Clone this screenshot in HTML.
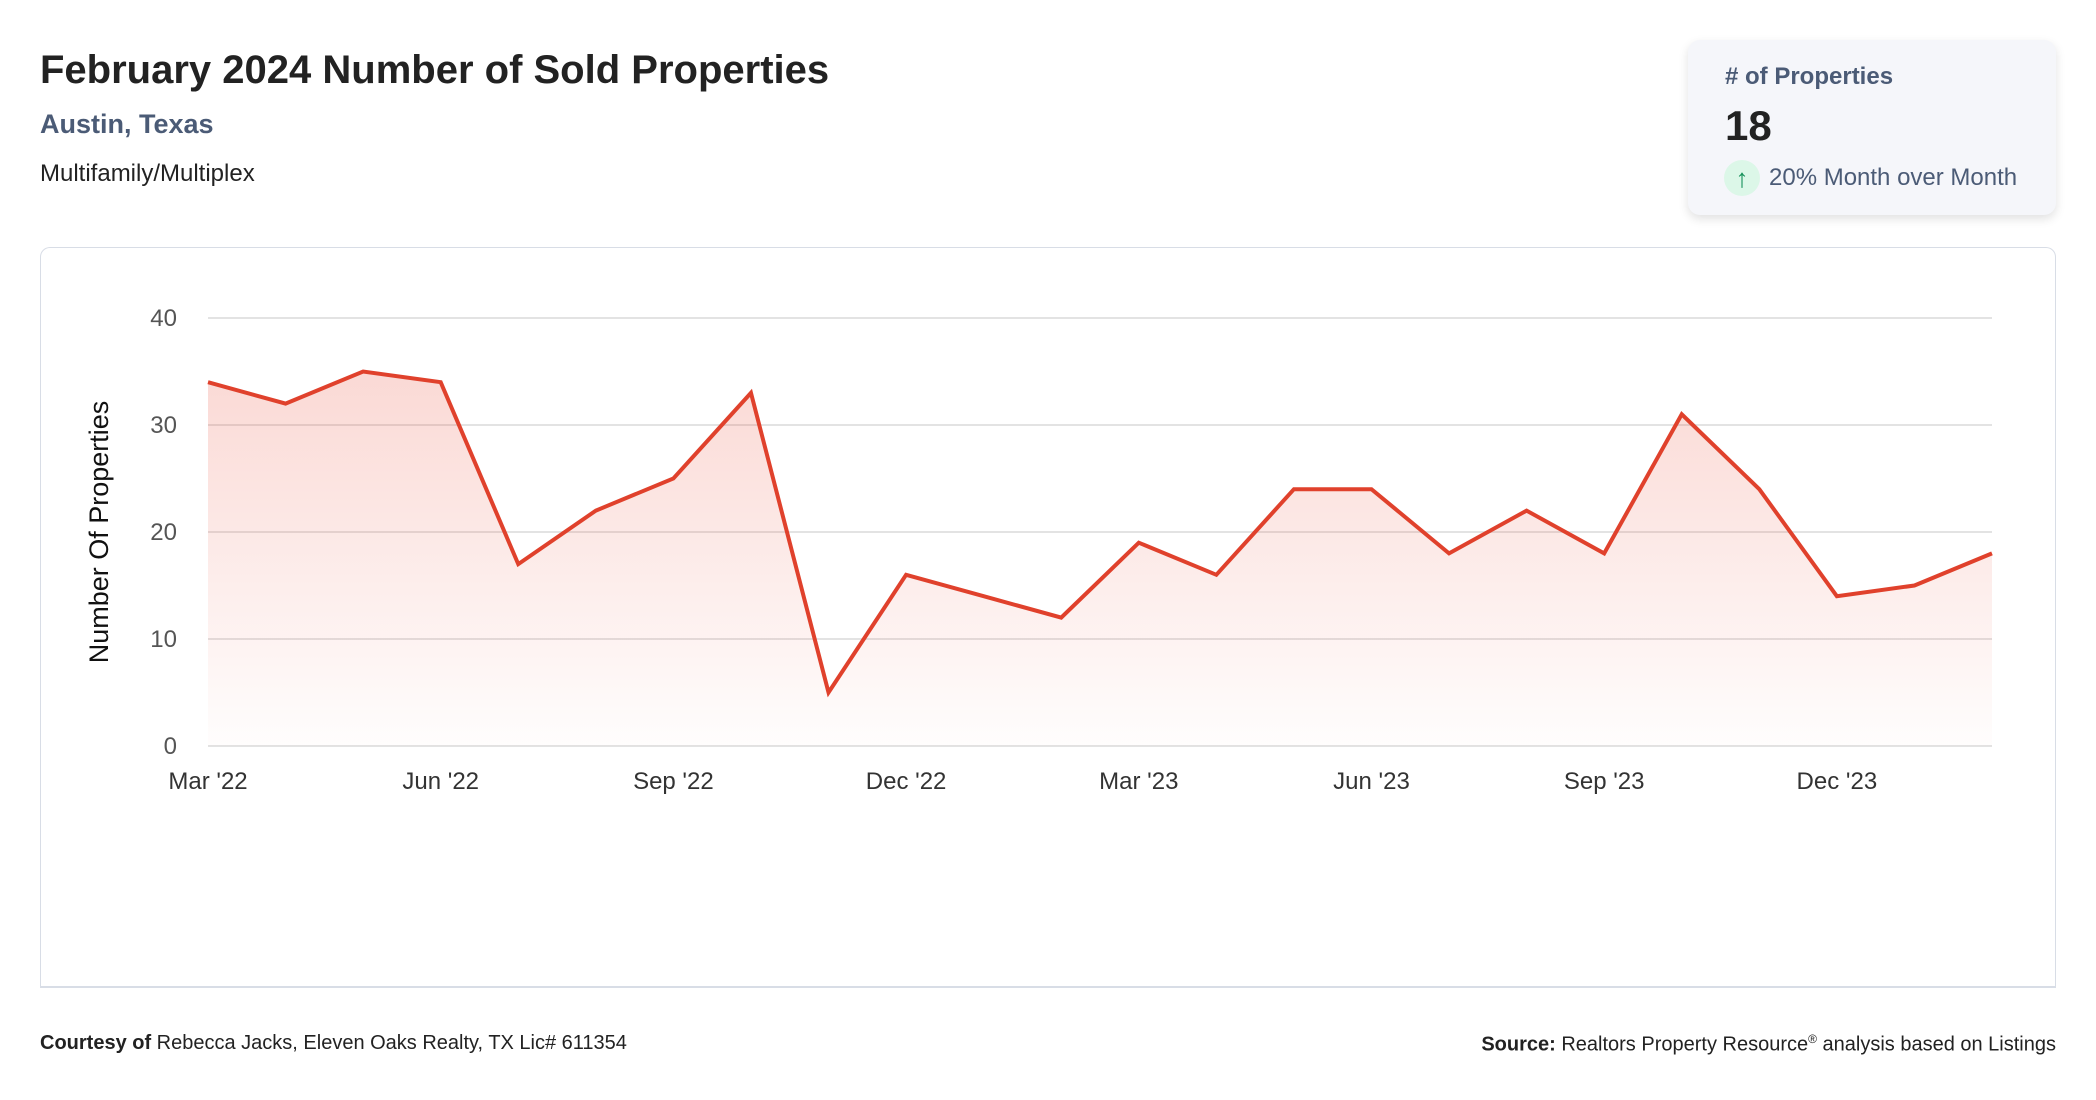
<!DOCTYPE html>
<html><head><meta charset="utf-8">
<style>
body{margin:0;width:2096px;height:1100px;background:#fff;font-family:"Liberation Sans",sans-serif;position:relative;overflow:hidden}
.abs{position:absolute;white-space:nowrap}
</style></head>
<body>
<div class="abs" style="left:40px;top:48px;font-size:40px;font-weight:bold;color:#222">February 2024 Number of Sold Properties</div>
<div class="abs" style="left:40px;top:109px;font-size:27px;font-weight:bold;color:#4b5b76">Austin, Texas</div>
<div class="abs" style="left:40px;top:160px;font-size:24px;color:#222">Multifamily/Multiplex</div>

<div class="abs" style="left:1688px;top:40px;width:368px;height:175px;background:#f5f6fa;border-radius:12px;box-shadow:0 4px 10px rgba(0,0,0,0.12)">
  <div class="abs" style="left:37px;top:23px;font-size:24px;font-weight:bold;color:#4b5b76"># of Properties</div>
  <div class="abs" style="left:37px;top:62px;font-size:42px;font-weight:bold;color:#222">18</div>
  <div class="abs" style="left:36px;top:120px;width:36px;height:36px;border-radius:50%;background:#dcf7e8;color:#16915a;font-size:26px;line-height:36px;text-align:center">↑</div>
  <div class="abs" style="left:81px;top:124px;font-size:24px;color:#4b5b76">20% Month over Month</div>
</div>

<div class="abs" style="left:40px;top:247px;width:2014px;height:738px;border:1px solid #d8dde6;border-radius:10px 10px 0 0;border-bottom:2px solid #d8dde6"></div>

<svg id="chart" class="abs" style="left:0;top:0" width="2096" height="1100"></svg>

<div class="abs" style="left:40px;top:1032px;font-size:20px;color:#222"><b>Courtesy of</b> Rebecca Jacks, Eleven Oaks Realty, TX Lic# 611354</div>
<div class="abs" style="right:40px;top:1032px;font-size:20px;color:#222"><b>Source:</b> Realtors Property Resource<sup style="font-size:12px">®</sup> analysis based on Listings</div>

<script>
const months = ["Mar '22","Apr '22","May '22","Jun '22","Jul '22","Aug '22","Sep '22","Oct '22","Nov '22","Dec '22","Jan '23","Feb '23","Mar '23","Apr '23","May '23","Jun '23","Jul '23","Aug '23","Sep '23","Oct '23","Nov '23","Dec '23","Jan '24","Feb '24"];
const soldCounts = [34,32,35,34,17,22,25,33,5,16,14,12,19,16,24,24,18,22,18,31,24,14,15,18];
const yTicks = [0,10,20,30,40];
const xTickLabels = ["Mar '22","Jun '22","Sep '22","Dec '22","Mar '23","Jun '23","Sep '23","Dec '23"];

const NS="http://www.w3.org/2000/svg";
const svg=document.getElementById('chart');
const X0=208,X1=1992,Y0=746,Y1=318;
const xs=i=>X0+(X1-X0)*i/(months.length-1);
const ys=v=>Y0-(Y0-Y1)*v/40;
function mk(t,a){const e=document.createElementNS(NS,t);for(const k in a)e.setAttribute(k,a[k]);svg.appendChild(e);return e;}

const defs=mk('defs',{});
defs.innerHTML='<linearGradient id="fillg" x1="0" y1="0" x2="0" y2="1"><stop offset="0" stop-color="#e8412c" stop-opacity="0.2"/><stop offset="1" stop-color="#e8412c" stop-opacity="0.01"/></linearGradient>';

yTicks.forEach(v=>{
  const l=mk('line',{x1:X0,x2:X1,y1:ys(v),y2:ys(v),stroke:'#e3e3e3','stroke-width':2});
  
  
  const t=mk('text',{x:177,y:ys(v)+8,'text-anchor':'end','font-size':24,fill:'#555','font-family':'Liberation Sans, sans-serif'});
  t.textContent=v;
  
  
});
xTickLabels.forEach(lab=>{
  const i=months.indexOf(lab);
  const t=mk('text',{x:xs(i),y:789,'text-anchor':'middle','font-size':24,fill:'#333','font-family':'Liberation Sans, sans-serif'});
  t.textContent=lab;
  
  
});
const yt=mk('text',{x:0,y:0,transform:'translate(108,532) rotate(-90)','text-anchor':'middle','font-size':27,fill:'#111','font-family':'Liberation Sans, sans-serif'});
yt.textContent='Number Of Properties';



let d=soldCounts.map((v,i)=>(i?'L':'M')+xs(i)+','+ys(v)).join(' ');
const area=mk('path',{d:d+` L${xs(soldCounts.length-1)},${Y0} L${X0},${Y0} Z`,fill:'url(#fillg)'});


const line=mk('path',{d:d,fill:'none',stroke:'#e0412c','stroke-width':4,'stroke-linejoin':'miter'});


</script>
</body></html>
